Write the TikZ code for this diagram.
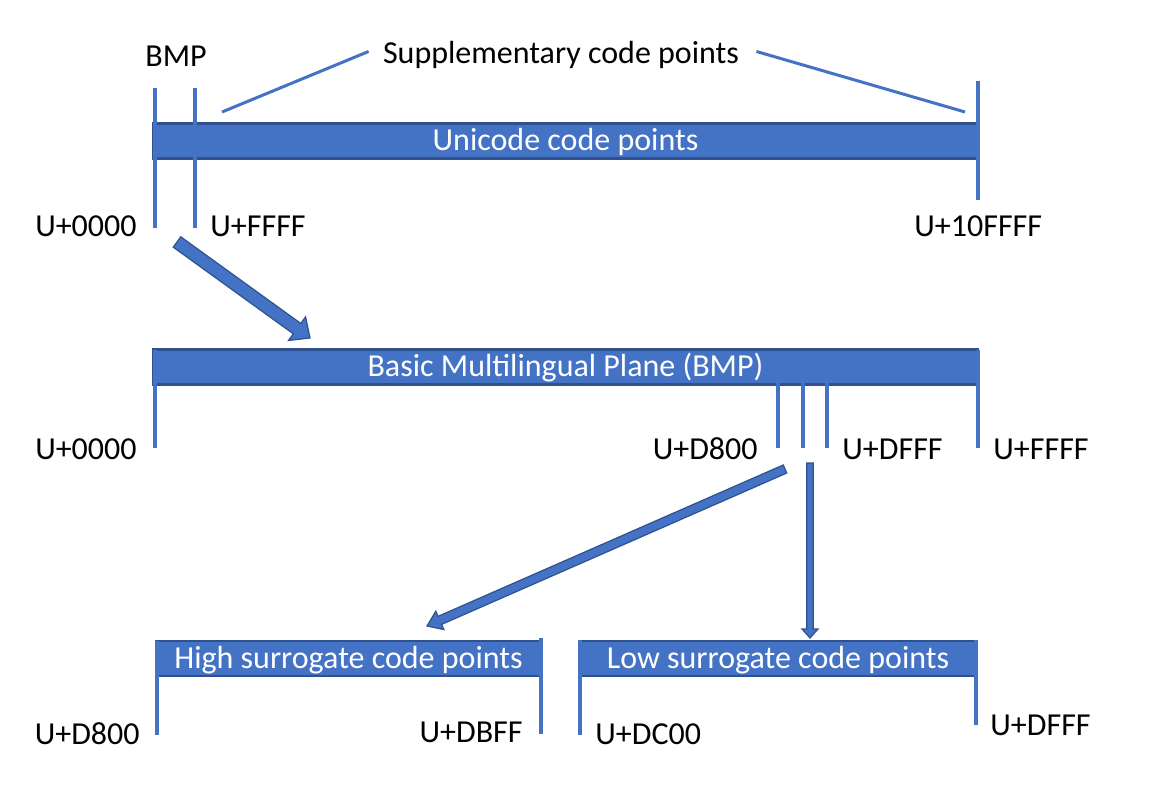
\documentclass[tikz,border=0pt]{standalone}
\usepackage{fontspec}
\setmainfont{Carlito}
\usetikzlibrary{calc}

\definecolor{uniblue}{HTML}{4472C4}
\definecolor{unidark}{HTML}{2F528F}

% block arrow: from, to, half shaft, half head, head length
\newcommand{\blockarrow}[5]{%
  \coordinate (ba-base) at ($(#2)!#5!(#1)$);
  \filldraw[barrow] ($(#1)!#3!90:(#2)$) -- ($(ba-base)!#3!90:(#2)$) -- ($(ba-base)!#4!90:(#2)$) -- (#2)
    -- ($(ba-base)!#4!-90:(#2)$) -- ($(ba-base)!#3!-90:(#2)$) -- ($(#1)!#3!-90:(#2)$) -- cycle;
}

\begin{document}
\begin{tikzpicture}[
        x=0.5pt, y=-0.5pt,
        font=\fontsize{16}{19}\selectfont,
        bar/.style={fill=uniblue, draw=unidark, line width=1.2pt, inner sep=0pt, text=white,
            minimum height=17.5pt, text height=11pt, text depth=1pt},
        tick/.style={draw=uniblue, line width=2pt},
        pointer/.style={draw=uniblue, line width=1.5pt},
        lbl/.style={inner sep=0pt},
        barrow/.style={fill=uniblue, draw=unidark, line width=0.6pt, line join=miter}
    ]
        \useasboundingbox (0,0) rectangle (1154,785);

        % all code points
        \node[bar, minimum width=412.5pt] (uni) at (565.5,141) {Unicode code points};
        \draw[tick] (155,88) -- (155,228);
        \draw[tick] (195,88) -- (195,228);
        \draw[tick] (978,81) -- (978,200);
        \node[lbl, anchor=base] (bmp) at (176,67) {BMP};
        \node[lbl, anchor=base] (supp) at (561,64) {Supplementary code points};
        \coordinate (supp-l) at (222,112);
        \coordinate (supp-r) at (965,112);
        \draw[pointer] ($(supp.west)+(-14,-4)$) -- (supp-l);
        \draw[pointer] ($(supp.east)+(17,-4)$) -- (supp-r);
        \node[lbl, anchor=base east] (u0) at (137,237) {U+0000};
        \node[lbl, anchor=base west] (uffff) at (210,237) {U+FFFF};
        \node[lbl, anchor=base west] (u10ffff) at (914,237) {U+10FFFF};

        % BMP
        \coordinate (a1-from) at (177,242);
        \coordinate (a1-to) at (310,338);
        \blockarrow{a1-from}{a1-to}{3.2pt}{7.3pt}{8pt}
        \node[bar, minimum width=412.5pt] (bmpbar) at (565.5,367) {Basic Multilingual Plane (BMP)};
        \draw[tick] (155,350) -- (155,448);
        \draw[tick] (978,350) -- (978,448);
        \foreach \x in {778,803,827}
            \draw[tick] (\x,352) -- (\x,448);
        \node[lbl, anchor=base east] (b0) at (137,459) {U+0000};
        \node[lbl, anchor=base east] (bd800) at (758,459) {U+D800};
        \node[lbl, anchor=base west] (bdfff) at (842,459) {U+DFFF};
        \node[lbl, anchor=base west] (bffff) at (993,459) {U+FFFF};

        % surrogates
        \coordinate (a2-from) at (785,469);
        \coordinate (a2-to) at (427,626);
        \blockarrow{a2-from}{a2-to}{2.2pt}{5pt}{7pt}
        \coordinate (a3-from) at (810,463);
        \coordinate (a3-to) at (810,638);
        \blockarrow{a3-from}{a3-to}{1.6pt}{4pt}{4.5pt}
        \node[bar, minimum width=192.5pt] (high) at (348.5,658.5) {High surrogate code points};
        \draw[tick] (157,641) -- (157,735);
        \draw[tick] (541,638) -- (541,734);
        \node[bar, minimum width=199pt] (low) at (778,658.5) {Low surrogate code points};
        \draw[tick] (580,640) -- (580,735);
        \draw[tick] (976,640) -- (976,725);
        \node[lbl, anchor=base east] (hd800) at (140,744) {U+D800};
        \node[lbl, anchor=base east] (hdbff) at (523,742) {U+DBFF};
        \node[lbl, anchor=base west] (ldc00) at (595,744) {U+DC00};
        \node[lbl, anchor=base west] (ldfff) at (990,735) {U+DFFF};
    \end{tikzpicture}
\end{document}
